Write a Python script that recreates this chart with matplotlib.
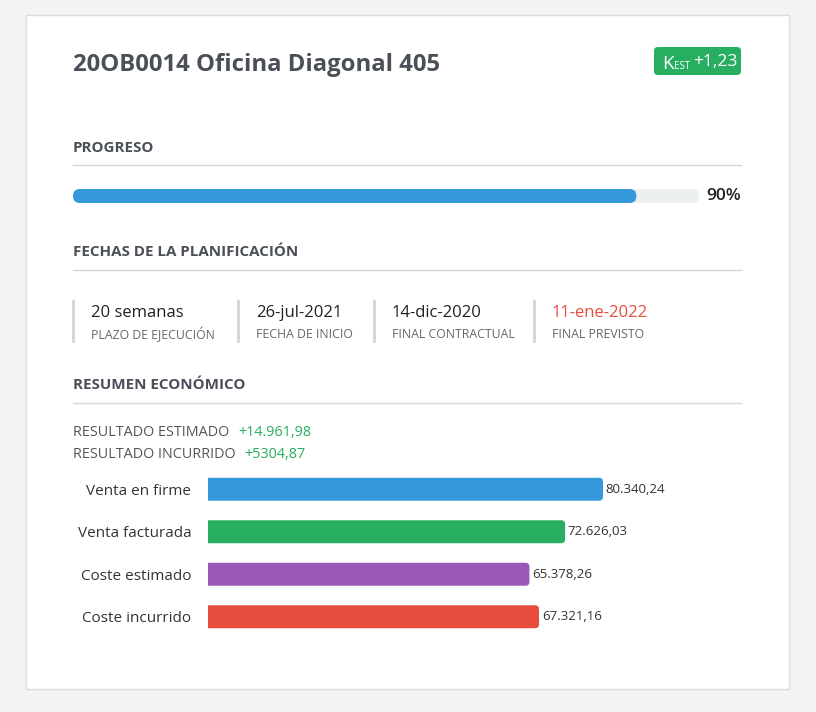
import matplotlib
matplotlib.use("Agg")
import matplotlib.pyplot as plt
from matplotlib.patches import Rectangle, FancyBboxPatch

plt.rcParams["font.family"] = ["Open Sans", "DejaVu Sans"]

# ============ Data ============
title = "20OB0014 Oficina Diagonal 405"
k_est = "+1,23"
progress_pct = 90

date_values = ["20 semanas", "26-jul-2021", "14-dic-2020", "11-ene-2022"]
date_labels = ["PLAZO DE EJECUCIÓN", "FECHA DE INICIO", "FINAL CONTRACTUAL", "FINAL PREVISTO"]
date_colors = ["#222222", "#222222", "#222222", "#e74c3c"]

result_labels = ["RESULTADO ESTIMADO", "RESULTADO INCURRIDO"]
result_values = ["+14.961,98", "+5304,87"]

categories = ["Venta en firme", "Venta facturada", "Coste estimado", "Coste incurrido"]
amounts = [80340.24, 72626.03, 65378.26, 67321.16]
bar_colors = ["#3498db", "#27ae60", "#9b59b6", "#e74c3c"]

W, H = 816, 712
DARK = "#4a4f58"
GREY = "#666666"
RULE = "#d6d6d6"


def eur(v):
    s = f"{v:,.2f}"
    return s.replace(",", "X").replace(".", ",").replace("X", ".")


def px_axes(fig, x0, y0, x1, y1):
    """axes placed by pixel box (top-left origin)"""
    return fig.add_axes([x0 / W, 1 - y1 / H, (x1 - x0) / W, (y1 - y0) / H])


def round_bars(ax, bars, radius_px, clip_left=False):
    """swap plain bar rects for rounded boxes of the same size"""
    bb = ax.get_window_extent()
    x0, x1 = ax.get_xlim()
    y0, y1 = ax.get_ylim()
    ux = abs(x1 - x0) / bb.width
    uy = abs(y1 - y0) / bb.height
    r = radius_px * ux
    for rect in bars:
        x, y = rect.get_x(), rect.get_y()
        w, h = rect.get_width(), rect.get_height()
        if clip_left:
            x, w = x - r, w + r
        p = FancyBboxPatch((x, y), w, h, boxstyle=f"round,pad=0,rounding_size={r}",
                           mutation_aspect=uy / ux, fc=rect.get_facecolor(), ec="none",
                           zorder=rect.get_zorder())
        ax.add_patch(p)
        rect.set_visible(False)


fig = plt.figure(figsize=(W / 100, H / 100), dpi=100, facecolor="#f3f3f3")

# ============ Card background ============
bg = fig.add_axes([0, 0, 1, 1])
bg.set_xlim(0, W)
bg.set_ylim(H, 0)
bg.axis("off")
bg.add_patch(Rectangle((26, 15), 763, 674, fc="white", ec="#dcdcdc", lw=1))

bg.text(73, 65, title, fontsize=17.2, fontweight="bold", color=DARK, va="center")

# K_est badge
bg.add_patch(FancyBboxPatch((654, 47), 87, 28, boxstyle="round,pad=0,rounding_size=4",
                            fc="#27ae60", ec="none"))
bg.text(662, 69, "K", fontsize=13.5, color="white", va="baseline")
bg.text(674, 69, "EST", fontsize=7, color="white", va="baseline")
bg.text(737, 61.5, k_est, fontsize=12.5, color="white", va="center", ha="right")

# section headers + rules
for y_txt, y_rule, txt in [(148, 165, "PROGRESO"),
                           (252, 270, "FECHAS DE LA PLANIFICACIÓN"),
                           (385, 403, "RESUMEN ECONÓMICO")]:
    bg.text(73, y_txt, txt, fontsize=10.9, fontweight="bold", color=DARK, va="center")
    bg.plot([73, 741], [y_rule, y_rule], color=RULE, lw=1)

# ============ Progress ============
bg.text(741, 196.5, f"{progress_pct}%", fontsize=12.5, fontweight="semibold",
        color="#222222", va="center", ha="right")

pax = px_axes(fig, 73, 189, 699, 203)
pax.set_xlim(0, 100)
pax.set_ylim(-0.5, 0.5)
pax.axis("off")
track = pax.barh(0, 100, height=1, color="#ecf0f1", zorder=1)
fill = pax.barh(0, progress_pct, height=1, color="#3498db", zorder=2)
round_bars(pax, track, 7)
round_bars(pax, fill, 7)

# ============ Planning dates ============
sep_x = [73, 238, 374, 534]
for x, val, lab, col in zip(sep_x, date_values, date_labels, date_colors):
    bg.add_patch(Rectangle((x - 1, 300), 3, 43, fc=RULE, ec="none"))
    bg.text(x + 18, 313, val, fontsize=12, color=col, va="center")
    bg.text(x + 18, 334, lab, fontsize=8.8, color=GREY, va="center")

# ============ Economic summary ============
for y, lab, val in zip([433, 454], result_labels, result_values):
    t = bg.text(73, y, lab, fontsize=10.4, color="#555555", va="center")
    fig.canvas.draw()
    ext = t.get_window_extent()
    bg.text(ext.x1 + 9, y, val, fontsize=10.4, color="#27ae60", va="center")

bax = px_axes(fig, 208, 468, 741, 638)
bax.set_xlim(0, 108400)
bax.set_ylim(len(categories) - 0.5, -0.5)
bars = bax.barh(range(len(categories)), amounts, height=0.54, color=bar_colors)
bax.set_yticks(range(len(categories)), categories, fontsize=11, color="#333333")
bax.tick_params(axis="y", length=0, pad=12)
bax.set_xticks([])
for s in bax.spines.values():
    s.set_visible(False)
bax.patch.set_alpha(0)
bax.bar_label(bars, labels=[eur(a) for a in amounts], padding=2, fontsize=9.5, color="#333333")
round_bars(bax, bars, 4, clip_left=True)

fig.savefig("out.png", dpi=100, facecolor=fig.get_facecolor())
